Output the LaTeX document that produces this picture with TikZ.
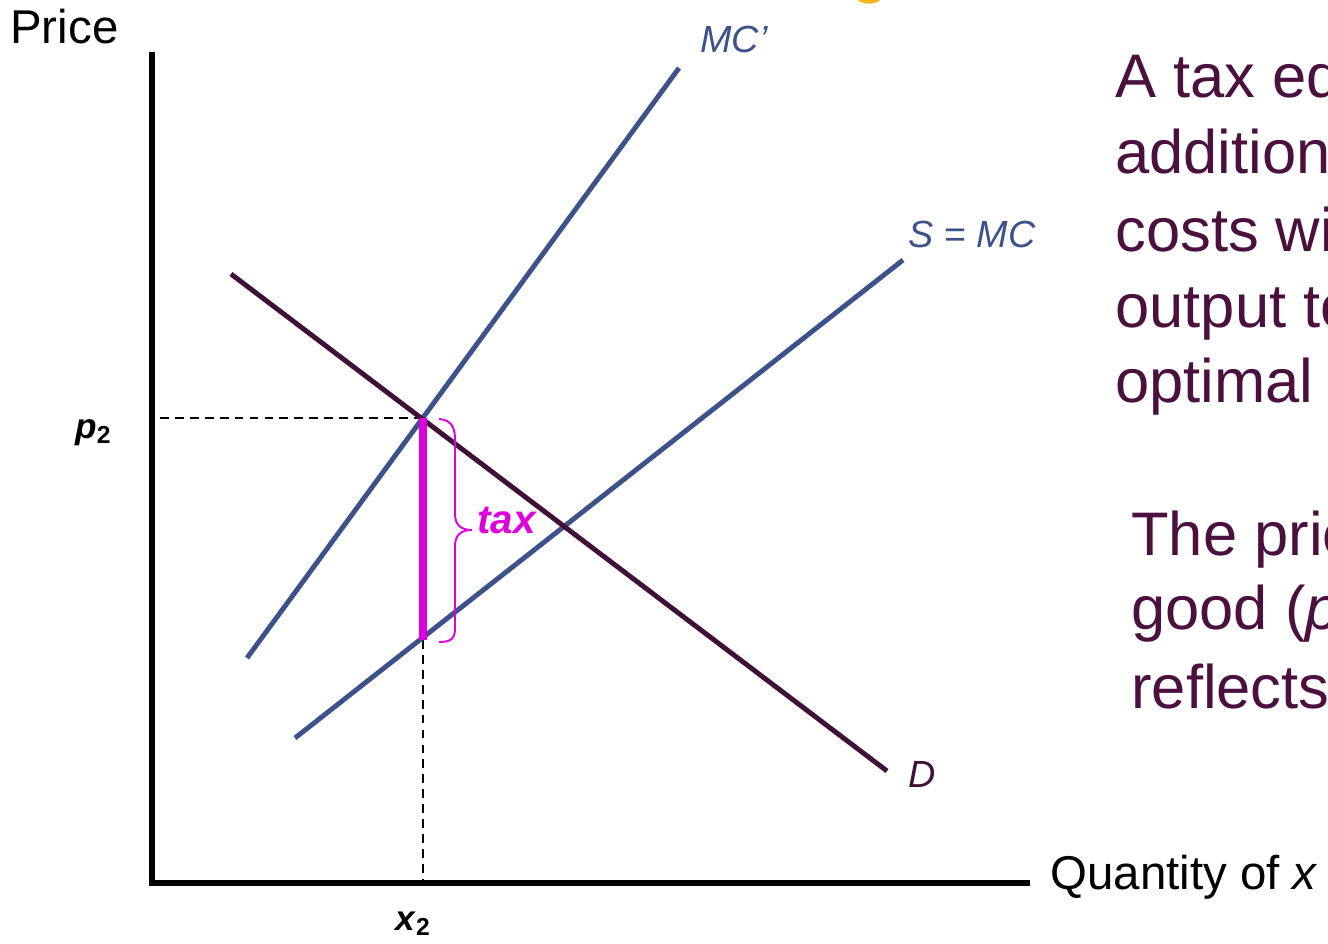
\documentclass[tikz,border=0pt]{standalone}
\usepackage{fontspec}
\setmainfont{Liberation Sans}
\definecolor{cblue}{RGB}{59,82,139}
\definecolor{cdem}{RGB}{64,16,56}
\definecolor{ctext}{RGB}{75,16,62}
\definecolor{cmag}{RGB}{221,0,221}
\definecolor{corange}{RGB}{245,180,30}
\begin{document}
\begin{tikzpicture}[x=0.02cm,y=-0.02cm,
  axis/.style={line width=3.4pt,black},
  curveb/.style={line width=2.8pt,cblue},
  curved/.style={line width=2.8pt,cdem},
  guide/.style={line width=0.8pt,black,dash pattern=on 5pt off 3.5pt},
  lab/.style={inner sep=0pt,anchor=base west},
  body/.style={inner sep=0pt,anchor=base west,font=\fontsize{35}{43}\selectfont,text=ctext}]
\useasboundingbox (0,0) rectangle (1328,943);
\clip (0,0) rectangle (1328,943);
% orange fragment at top
\draw[corange,line width=2.2pt] (858,-2) .. controls (864,3) and (874,3) .. (880,-2);
% coordinates
\coordinate (yt) at (152,52);
\coordinate (o) at (152,883);
\coordinate (xe) at (1030,883);
\coordinate (mc1a) at (247,658);
\coordinate (mc1b) at (679,68);
\coordinate (sa) at (295,738);
\coordinate (sb) at (903,260);
\coordinate (da) at (231,274);
\coordinate (db) at (887,771);
\coordinate (e2) at (423,418);
\coordinate (p2l) at (160,418);
\coordinate (tb) at (423,640);
\coordinate (x2b) at (423,880);
% guides
\draw[guide] (p2l) -- (e2);
\draw[guide] (tb) -- (x2b);
% curves
\draw[curveb] (mc1a) -- (mc1b);
\draw[curveb] (sa) -- (sb);
\draw[curved] (da) -- (db);
% tax bar
\draw[cmag,line width=4pt] (e2) -- (tb);
% brace
\draw[cmag,line width=1.1pt] (439,419) .. controls (452,420) and (455,428) .. (455,440) -- (455,514) .. controls (455,525) and (461,530) .. (472,530) .. controls (461,530) and (455,535) .. (455,546) -- (455,628) .. controls (455,638) and (452,642) .. (439,642);
% axes
\draw[axis] (yt) -- (o) -- (xe);
% labels
\node[lab,font=\fontsize{27}{31}\selectfont] (price) at (10,43) {Price};
\node[lab,font=\fontsize{27}{31}\selectfont] (qty) at (1050,889) {Quantity of \textit{x}};
\node[lab,font=\fontsize{21.5}{25}\selectfont\itshape,text=cblue] (mclab) at (700,52) {MC’};
\node[lab,font=\fontsize{21.5}{25}\selectfont,text=cblue] (slab) at (908,247) {\textit{S} = \textit{MC}};
\node[lab,font=\fontsize{21.5}{25}\selectfont\itshape,text=cdem] (dlab) at (908,787) {D};
\node[lab,font=\fontsize{23}{27}\selectfont\bfseries\itshape,text=cmag] (taxlab) at (477,533) {tax};
\node[lab,font=\fontsize{20}{24}\selectfont\bfseries] (p2lab) at (75,438) {\textit{p}\textsubscript{2}};
\node[lab,font=\fontsize{20}{24}\selectfont\bfseries] (x2lab) at (395,930) {\textit{x}\textsubscript{2}};
% body text
\node[body] (t1) at (1115,97) {A tax equal};
\node[body] (t2) at (1115,173) {additional};
\node[body] (t3) at (1115,251) {costs will};
\node[body] (t4) at (1115,327) {output to};
\node[body] (t5) at (1115,402) {optimal};
\node[body] (u1) at (1131,555) {The price};
\node[body] (u2) at (1131,629) {good (\textit{p}};
\node[body] (u3) at (1131,708) {reflects};
\end{tikzpicture}
\end{document}
